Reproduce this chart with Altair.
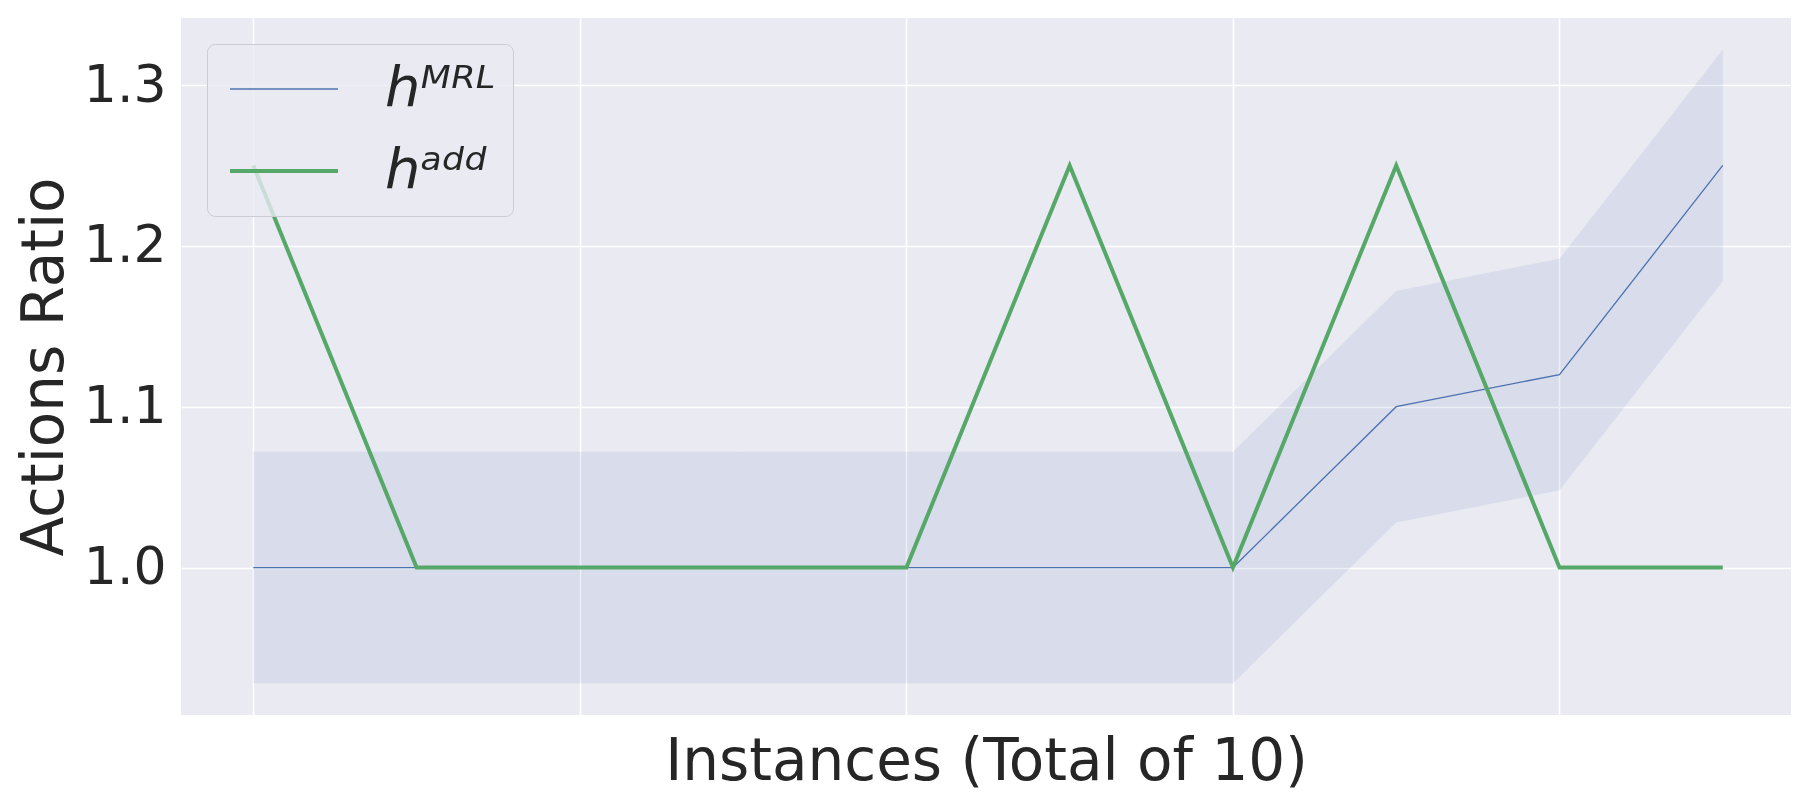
import altair as alt
import pandas as pd

instances = list(range(10))
mrl_mean = [1.0, 1.0, 1.0, 1.0, 1.0, 1.0, 1.0, 1.10, 1.12, 1.25]
mrl_low = [0.928, 0.928, 0.928, 0.928, 0.928, 0.928, 0.928, 1.028, 1.048, 1.178]
mrl_high = [1.072, 1.072, 1.072, 1.072, 1.072, 1.072, 1.072, 1.172, 1.192, 1.322]
add_vals = [1.25, 1.0, 1.0, 1.0, 1.0, 1.25, 1.0, 1.25, 1.0, 1.0]
series_names = ["hᴹᴿᴸ", "hᵃᵈᵈ"]
series_colors = ["#4C72B0", "#55A868"]
series_widths = [1.3, 4]
y_ticks = [1.0, 1.1, 1.2, 1.3]
x_grid = [0, 2, 4, 6, 8]

band_df = pd.DataFrame({"x": instances, "lo": mrl_low, "hi": mrl_high})
line_df = pd.concat([
    pd.DataFrame({"x": instances, "y": mrl_mean, "series": series_names[0]}),
    pd.DataFrame({"x": instances, "y": add_vals, "series": series_names[1]}),
])

xscale = alt.Scale(domain=[-0.443, 9.418], nice=False, zero=False)
yscale = alt.Scale(domain=[0.9083, 1.3417], nice=False, zero=False)

xaxis = alt.Axis(values=x_grid, labels=False, ticks=False, domain=False,
                 title="Instances (Total of 10)", titlePadding=18)
yaxis = alt.Axis(values=y_ticks, format=".1f", ticks=False, domain=False,
                 title="Actions Ratio", titlePadding=9, labelPadding=15)

band = alt.Chart(band_df).mark_area(color="#4C72B0", opacity=0.1,
                                    stroke="#4C72B0", strokeOpacity=0.08, strokeWidth=1).encode(
    x=alt.X("x:Q", scale=xscale, axis=xaxis),
    y=alt.Y("lo:Q", scale=yscale, axis=yaxis),
    y2="hi:Q",
)

lines = alt.Chart(line_df).mark_line().encode(
    x=alt.X("x:Q", scale=xscale),
    y=alt.Y("y:Q", scale=yscale),
    color=alt.Color("series:N", scale=alt.Scale(domain=series_names, range=series_colors),
                    legend=alt.Legend(title=None, orient="none", legendX=26, legendY=26,
                                      symbolType="M-2,0H2", symbolSize=2916,
                                      labelFontSize=56, labelFontStyle="italic",
                                      labelOffset=72, rowPadding=25, symbolOffset=31,
                                      fillColor="rgba(234,234,242,0.8)", strokeColor="#CCCCD2",
                                      cornerRadius=8, padding=17)),
    strokeWidth=alt.StrokeWidth("series:N", scale=alt.Scale(domain=series_names, range=series_widths),
                                legend=None),
)

chart = alt.layer(band, lines).properties(
    width=1610, height=697,
    autosize=alt.AutoSizeParams(type="none"),
    padding={"left": 173, "top": 10, "right": 0, "bottom": 77},
).configure_view(fill="#EAEAF2", stroke=None).configure_axis(
    gridColor="white", gridWidth=1.6, labelFont="DejaVu Sans", titleFont="DejaVu Sans",
    labelFontSize=52, titleFontSize=58, labelColor="#262626", titleColor="#262626",
    titleFontWeight="normal",
).configure_legend(labelFont="DejaVu Sans", labelColor="#262626")

chart.save("out.html", embed_options={"renderer": "svg", "actions": False})
